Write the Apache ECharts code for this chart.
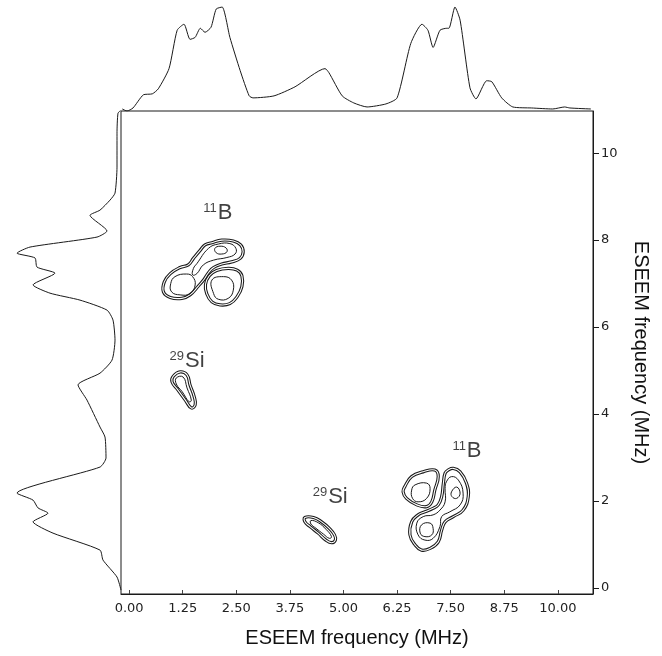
<!DOCTYPE html>
<html>
<head>
<meta charset="utf-8">
<script src="https://cdn.jsdelivr.net/npm/echarts@6/dist/echarts.min.js"></script>
<style>
  html, body { margin: 0; padding: 0; background: #fff; }
  #chart { width: 662px; height: 656px; }
</style>
</head>
<body>
<div id="chart"></div>
<script>
// Axis ticks (MHz)
const xTicks = [0, 1.25, 2.5, 3.75, 5, 6.25, 7.5, 8.75, 10];
const xTickLabels = ['0.00', '1.25', '2.50', '3.75', '5.00', '6.25', '7.50', '8.75', '10.00'];
const yTicks = [0, 2, 4, 6, 8, 10];
const yTickLabels = ['0', '2', '4', '6', '8', '10'];

// Skyline projection along the horizontal frequency axis
const topFreq = [-0.16, -0.05, 0.09, 0.33, 0.54, 0.68, 0.93, 1.12, 1.28, 1.42, 1.54, 1.66, 1.77, 1.91, 2.03, 2.17,
  2.35, 2.59, 2.80, 2.89, 3.38, 3.87, 4.57, 4.66, 4.97, 5.24, 5.55, 5.99, 6.25, 6.57, 6.83, 6.97, 7.09, 7.25,
  7.41, 7.46, 7.60, 7.72, 7.95, 8.09, 8.34, 8.46, 8.69, 8.95, 9.39, 9.88, 10.16, 10.28, 10.77];
const topIntensity = [2, 0, 3, 16, 17, 22, 42, 80, 86, 71, 73, 82, 78, 83, 101, 103,
  73, 40, 15, 13, 15, 24, 42, 38, 15, 8, 4, 7, 13, 67, 86, 80, 63, 80,
  82, 82, 103, 90, 23, 12, 30, 29, 13, 4, 3, 2, 4, 3, 2];

// Skyline projection along the vertical frequency axis
const leftFreq = [10.99, 10.92, 10.46, 9.68, 9.08, 8.92, 8.69, 8.57, 8.21, 8.07, 7.84, 7.70, 7.59, 7.38, 7.24,
  6.97, 6.78, 6.62, 6.39, 6.16, 5.70, 5.24, 4.94, 4.67, 4.32, 3.70, 3.47, 2.99, 2.78, 2.18, 2.02, 1.84,
  1.72, 1.52, 1.26, 0.87, 0.64, 0.25, -0.05];
const leftIntensity = [0, 3, 4, 4, 6, 11, 21, 31, 14, 24, 91, 104, 86, 84, 66,
  88, 71, 41, 14, 8, 6, 9, 21, 43, 34, 21, 16, 15, 21, 104, 88, 83,
  73, 88, 68, 21, 18, 4, 0];

// Contour rings [nu1, nu2] in MHz — 11B, upper-left quadrant
const b11UL_outerA = [[1.93, 7.94], [2.16, 8.00], [2.43, 7.98], [2.60, 7.89], [2.66, 7.73], [2.59, 7.58],
  [2.39, 7.50], [2.16, 7.45], [1.97, 7.37], [1.85, 7.25], [1.75, 7.10], [1.62, 6.95], [1.42, 6.74],
  [1.23, 6.66], [0.96, 6.68], [0.80, 6.81], [0.82, 7.04], [0.96, 7.23], [1.19, 7.37], [1.38, 7.43],
  [1.50, 7.58], [1.66, 7.77], [1.77, 7.89]];
const b11UL_outerB = [[2.04, 7.30], [2.31, 7.35], [2.52, 7.31], [2.63, 7.18], [2.63, 6.93], [2.52, 6.70],
  [2.35, 6.54], [2.12, 6.51], [1.93, 6.58], [1.81, 6.77], [1.78, 6.98], [1.87, 7.18]];
const b11UL_innerUpper = [[1.58, 7.46], [1.85, 7.81], [2.08, 7.91], [2.35, 7.92], [2.49, 7.81], [2.47, 7.68],
  [2.28, 7.60], [1.97, 7.54], [1.73, 7.43], [1.58, 7.23], [1.48, 7.20], [1.50, 7.35]];
const b11UL_core = [[2.00, 7.81], [2.12, 7.86], [2.26, 7.82], [2.28, 7.73], [2.16, 7.68], [2.03, 7.71]];
const b11UL_innerLeft = [[1.07, 7.16], [1.34, 7.22], [1.48, 7.16], [1.54, 6.97], [1.42, 6.77], [1.19, 6.74],
  [0.99, 6.81], [0.97, 7.00]];
const b11UL_innerRight = [[1.93, 7.08], [2.20, 7.16], [2.39, 7.08], [2.43, 6.85], [2.31, 6.66], [2.08, 6.64],
  [1.97, 6.77]];

// 11B, lower-right quadrant
const b11LR_outerA = [[6.43, 2.33], [6.59, 2.56], [6.86, 2.67], [7.13, 2.71], [7.21, 2.56], [7.13, 2.25],
  [7.06, 1.98], [6.94, 1.87], [6.71, 1.91], [6.47, 2.06], [6.39, 2.21]];
const b11LR_outerB = [[7.44, 2.71], [7.56, 2.75], [7.72, 2.67], [7.87, 2.41], [7.91, 2.10], [7.79, 1.79],
  [7.56, 1.64], [7.37, 1.52], [7.29, 1.33], [7.21, 1.06], [7.02, 0.91], [6.82, 0.87], [6.67, 0.99],
  [6.55, 1.22], [6.59, 1.52], [6.74, 1.68], [6.90, 1.75], [7.09, 1.83], [7.21, 1.91], [7.29, 2.10],
  [7.33, 2.41], [7.37, 2.64]];
const b11LR_innerA = [[6.59, 2.25], [6.67, 2.37], [6.94, 2.41], [7.02, 2.29], [6.94, 2.06], [6.74, 1.98],
  [6.61, 2.06]];
const b11LR_innerB = [[7.40, 2.44], [7.52, 2.56], [7.68, 2.48], [7.79, 2.18], [7.72, 1.91], [7.48, 1.75],
  [7.29, 1.64], [7.25, 1.41], [7.09, 1.14], [6.90, 1.10], [6.74, 1.22], [6.71, 1.49], [6.86, 1.64],
  [7.09, 1.68], [7.25, 1.79], [7.37, 1.98], [7.37, 2.29]];
const b11LR_coreRight = [[7.52, 2.21], [7.64, 2.32], [7.72, 2.18], [7.64, 2.06], [7.53, 2.10]];
const b11LR_coreBottom = [[6.82, 1.45], [7.02, 1.49], [7.09, 1.37], [7.06, 1.22], [6.90, 1.18], [6.79, 1.26]];

// 29Si ridges
const si29UL_outer = [[1.03, 4.87], [1.19, 4.97], [1.35, 4.90], [1.42, 4.67], [1.52, 4.39], [1.54, 4.21],
  [1.45, 4.14], [1.31, 4.32], [1.14, 4.55], [1.00, 4.74]];
const si29UL_inner = [[1.10, 4.83], [1.26, 4.85], [1.35, 4.60], [1.45, 4.32], [1.40, 4.28], [1.24, 4.51],
  [1.10, 4.69]];
const si29LR_outer = [[4.10, 1.62], [4.30, 1.62], [4.49, 1.52], [4.67, 1.37], [4.79, 1.22], [4.81, 1.10],
  [4.72, 1.04], [4.59, 1.10], [4.41, 1.26], [4.22, 1.41], [4.10, 1.52]];
const si29LR_inner = [[4.24, 1.55], [4.41, 1.50], [4.59, 1.35], [4.72, 1.18], [4.67, 1.14], [4.53, 1.24],
  [4.36, 1.37], [4.24, 1.47]];

const outerRings = [b11UL_outerA, b11UL_outerB, b11LR_outerA, b11LR_outerB, si29UL_outer, si29LR_outer];
const innerRings = [b11UL_innerUpper, b11UL_core, b11UL_innerLeft, b11UL_innerRight,
  b11LR_innerA, b11LR_innerB, b11LR_coreRight, b11LR_coreBottom, si29UL_inner, si29LR_inner];

// Peak assignments
const peakX = [2.07, 7.88, 1.35, 4.69];
const peakY = [8.62, 3.15, 5.22, 2.09];
const peakMass = ['11', '11', '29', '29'];
const peakElement = ['B', 'B', 'Si', 'Si'];

const X_MIN = -0.19, X_MAX = 10.82;
const Y_MIN = -0.14, Y_MAX = 10.97;
const INK = '#1a1a1a';

const chart = echarts.init(document.getElementById('chart'), null, { renderer: 'canvas' });

function ringSeries(rings, doubled) {
  return {
    type: 'custom',
    xAxisIndex: 0,
    yAxisIndex: 0,
    clip: true,
    silent: true,
    data: rings.map((r, i) => [r[0][0], r[0][1], i]),
    renderItem: function (params, api) {
      const ring = rings[api.value(2)];
      const pts = ring.map(p => api.coord(p));
      if (doubled) {
        return {
          type: 'group',
          children: [
            { type: 'polygon', shape: { points: pts, smooth: 0.45 }, style: { fill: null, stroke: INK, lineWidth: 3.2 } },
            { type: 'polygon', shape: { points: pts, smooth: 0.45 }, style: { fill: null, stroke: '#fff', lineWidth: 1.1 } }
          ]
        };
      }
      return { type: 'polygon', shape: { points: pts, smooth: 0.45 }, style: { fill: null, stroke: INK, lineWidth: 1 } };
    }
  };
}

const tickFont = { fontFamily: 'DejaVu Sans', fontSize: 13, color: '#222' };
const titleFont = { fontFamily: 'Liberation Sans', fontSize: 20, color: '#111' };

chart.setOption({
  animation: false,
  backgroundColor: '#fff',
  grid: [
    { left: 121, top: 111, width: 472, height: 483, show: true, borderColor: INK, borderWidth: 1, backgroundColor: 'transparent' },
    { left: 121, top: 0, width: 472, height: 111 },
    { left: 0, top: 111, width: 121, height: 483 }
  ],
  xAxis: [
    {
      gridIndex: 0, type: 'value', min: X_MIN, max: X_MAX,
      axisLine: { show: true, onZero: false, lineStyle: { color: INK, width: 1 } },
      axisTick: { show: true, inside: true, length: 4, customValues: xTicks, lineStyle: { color: '#444' } },
      minorTick: { show: false },
      splitLine: { show: false },
      axisLabel: {
        show: true, margin: 8, customValues: xTicks,
        formatter: v => xTickLabels[xTicks.indexOf(v)],
        ...tickFont
      },
      name: 'ESEEM frequency (MHz)', nameLocation: 'middle', nameGap: 34,
      nameTextStyle: titleFont
    },
    {
      gridIndex: 1, type: 'value', min: X_MIN, max: X_MAX, show: false
    },
    {
      gridIndex: 2, type: 'value', min: 0, max: 121, inverse: true, show: false
    }
  ],
  yAxis: [
    {
      gridIndex: 0, type: 'value', min: Y_MIN, max: Y_MAX, position: 'right',
      axisLine: { show: true, onZero: false, lineStyle: { color: INK, width: 1 } },
      axisTick: { show: true, inside: false, length: 6, customValues: yTicks, lineStyle: { color: INK } },
      splitLine: { show: false },
      axisLabel: {
        show: true, margin: 8, customValues: yTicks,
        formatter: v => yTickLabels[yTicks.indexOf(v)],
        ...tickFont
      },
      name: 'ESEEM frequency (MHz)', nameLocation: 'middle', nameGap: 38, nameRotate: -90,
      nameTextStyle: titleFont
    },
    {
      gridIndex: 1, type: 'value', min: 0, max: 110, show: false
    },
    {
      gridIndex: 2, type: 'value', min: Y_MIN, max: Y_MAX, show: false
    }
  ],
  series: [
    {
      type: 'line', xAxisIndex: 1, yAxisIndex: 1, silent: true,
      data: topFreq.map((f, i) => [f, topIntensity[i]]),
      showSymbol: false, smooth: 0.2,
      lineStyle: { color: INK, width: 1 }
    },
    {
      type: 'line', xAxisIndex: 2, yAxisIndex: 2, silent: true,
      data: leftFreq.map((f, i) => [leftIntensity[i], f]),
      showSymbol: false, smooth: 0.2,
      lineStyle: { color: INK, width: 1 }
    },
    ringSeries(outerRings, true),
    ringSeries(innerRings, false),
    {
      type: 'scatter', xAxisIndex: 0, yAxisIndex: 0, silent: true,
      symbolSize: 0,
      data: peakX.map((x, i) => [x, peakY[i], i]),
      label: {
        show: true, position: 'inside',
        formatter: p => '{m|' + peakMass[p.value[2]] + '}{e|' + peakElement[p.value[2]] + '}',
        rich: {
          m: { fontFamily: 'Liberation Sans', fontSize: 13, color: '#111', padding: [0, 1, 10, 0] },
          e: { fontFamily: 'Liberation Sans', fontSize: 22, color: '#111' }
        }
      }
    }
  ]
});
</script>
</body>
</html>
